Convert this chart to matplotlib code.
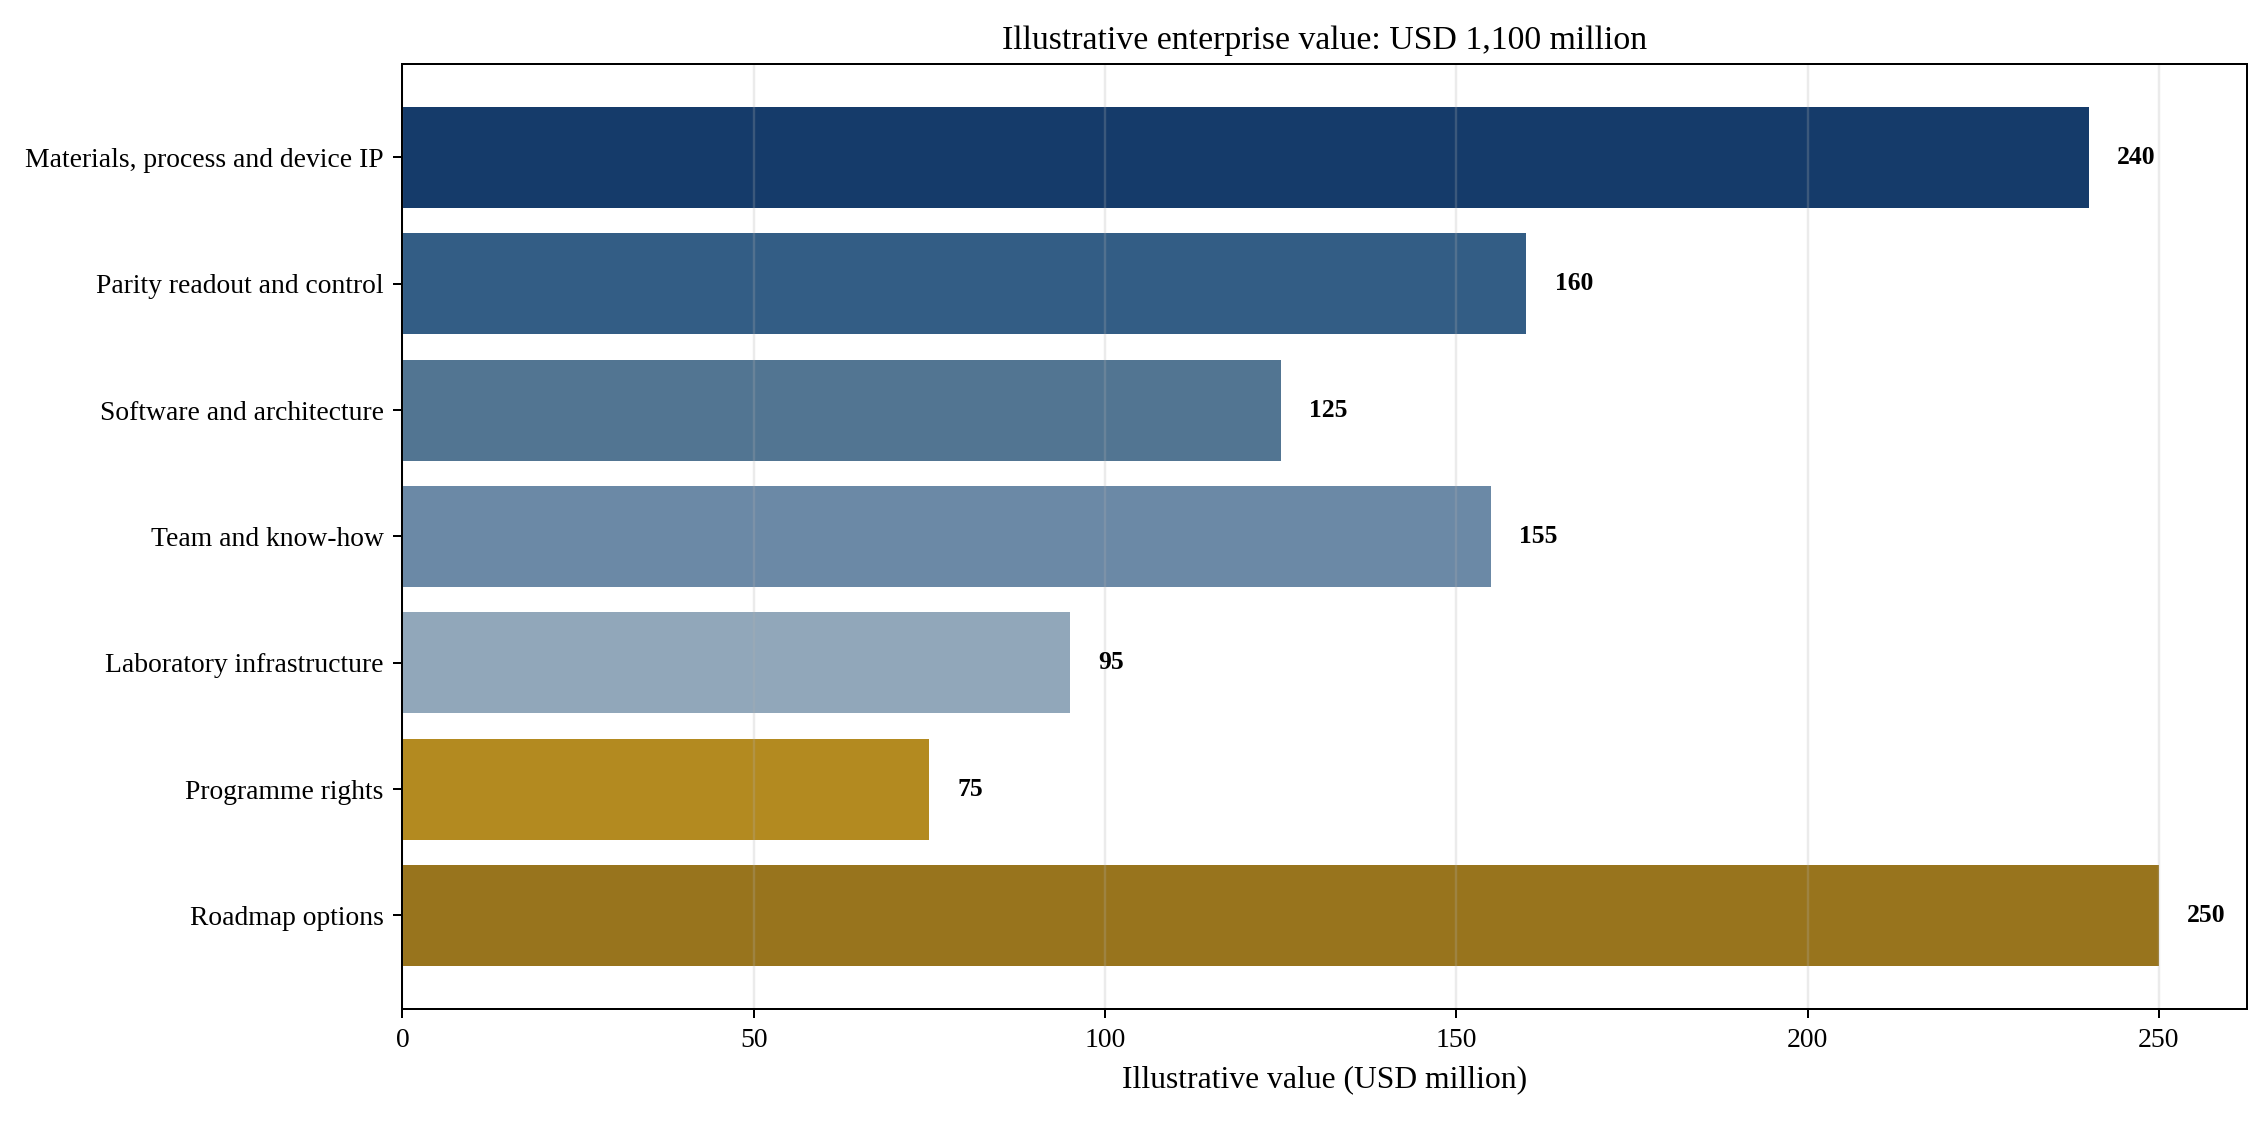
import matplotlib
matplotlib.use("Agg")
import matplotlib.pyplot as plt

# Datos
categories = [
    "Materials, process and device IP",
    "Parity readout and control",
    "Software and architecture",
    "Team and know-how",
    "Laboratory infrastructure",
    "Programme rights",
    "Roadmap options",
]
values = [240, 160, 125, 155, 95, 75, 250]
colors = ["#153b6a", "#335d85", "#527592", "#6b89a6", "#91a7ba", "#b38a20", "#98741d"]
total = 1100

plt.rcParams["font.family"] = ["Liberation Serif", "DejaVu Serif"]

fig = plt.figure(figsize=(2267 / 144, 1121 / 144), dpi=144)
ax = fig.add_axes([0.1775, 0.100, 0.8135, 0.843])

y = list(range(len(categories)))
ax.barh(y, values, height=0.8, color=colors)
ax.invert_yaxis()
ax.set_yticks(y)
ax.set_yticklabels(categories)
ax.tick_params(labelsize=13.8, length=4.7, width=1.0, pad=4.7)
for s in ax.spines.values():
    s.set_linewidth(1.0)

# Etiquetas de valor
for yi, v in zip(y, values):
    ax.text(v + 4, yi, f"{v}", va="center", ha="left", fontsize=12.8, fontweight="bold")

ax.grid(axis="x", color="#b0b0b0", alpha=0.25, linewidth=1.2)
ax.set_xlabel("Illustrative value (USD million)", fontsize=15.8, labelpad=6.5)
ax.set_title(f"Illustrative enterprise value: USD {total:,} million", fontsize=16.9, pad=7.5)

fig.savefig("out.png", dpi=144)
